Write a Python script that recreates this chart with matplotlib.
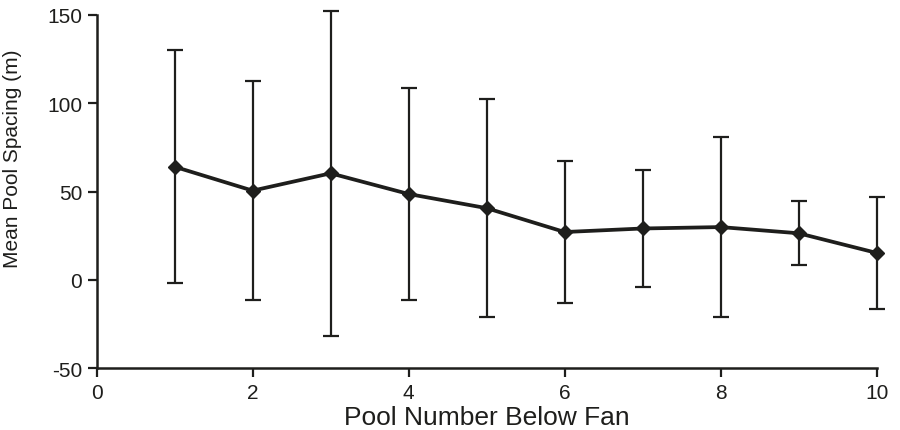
import numpy as np
import matplotlib.pyplot as plt

plt.rcParams['font.family'] = ['Liberation Sans', 'DejaVu Sans']
plt.rcParams['axes.unicode_minus'] = False

pool = [1, 2, 3, 4, 5, 6, 7, 8, 9, 10]
mean_spacing = [64, 50.5, 60.3, 48.6, 40.6, 27.1, 29.1, 29.9, 26.4, 15.3]
sd_spacing = [66, 62, 92, 60, 61.5, 40, 33, 51, 18, 31.5]

col = '#1e1e1c'

fig = plt.figure(figsize=(9, 4.31), dpi=100)
ax = fig.add_axes([0.1074, 0.143, 0.8666, 0.8206])

eb = ax.errorbar(pool, mean_spacing, yerr=sd_spacing, color=col, lw=2.7,
                 marker='D', ms=7, elinewidth=1.6, capsize=6, capthick=1.6)
for art in [eb[0], *eb[1], *eb[2]]:
    art.set_clip_on(False)

ax.set_xlim(0, 10)
ax.set_ylim(-50, 150)
ax.set_xticks([0, 2, 4, 6, 8, 10])
ax.set_yticks([-50, 0, 50, 100, 150])

for s in ['top', 'right']:
    ax.spines[s].set_visible(False)
for s in ['left', 'bottom']:
    ax.spines[s].set_linewidth(1.8)
    ax.spines[s].set_color(col)
ax.tick_params(direction='out', length=6.5, width=1.6, colors=col, labelsize=15, pad=4)

ax.set_xlabel('Pool Number Below Fan', fontsize=19, color=col, labelpad=2)
ax.set_ylabel('Mean Pool Spacing (m)', fontsize=15, color=col)
ax.yaxis.set_label_coords(-0.096, 0.596)

plt.savefig('out.png', dpi=100)
